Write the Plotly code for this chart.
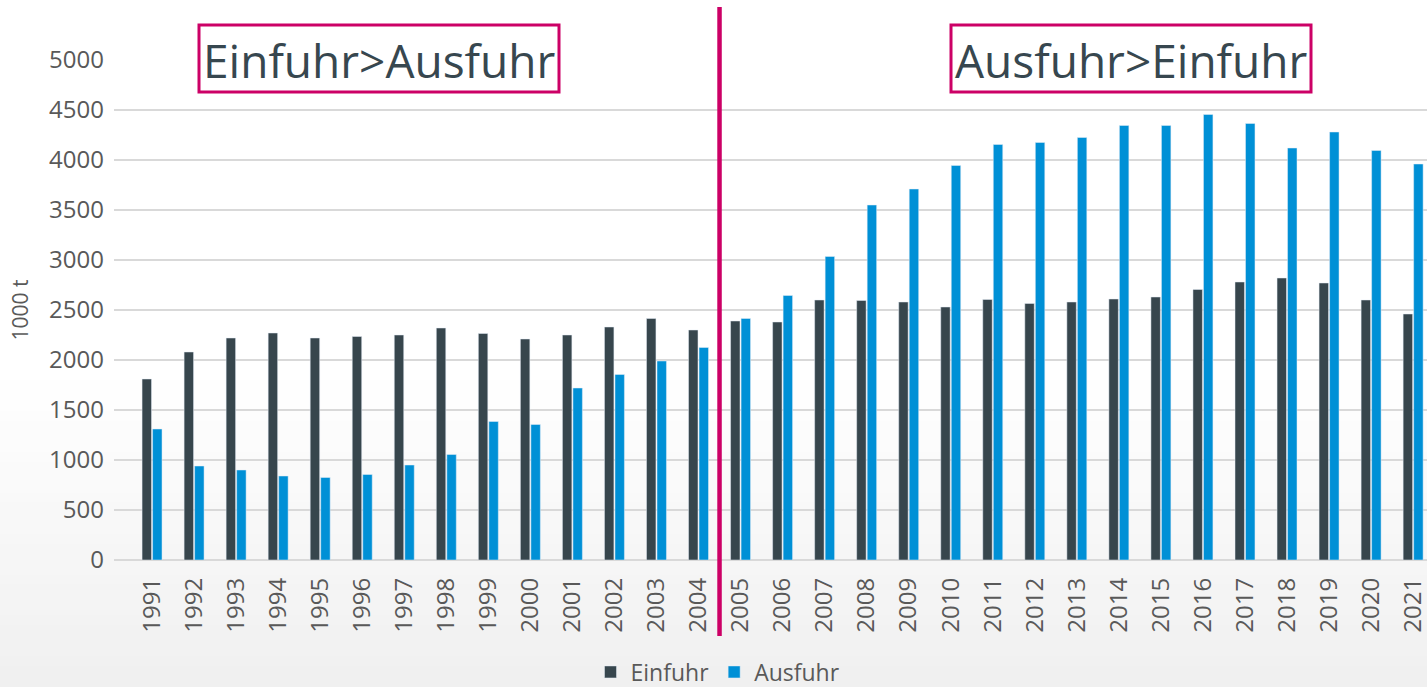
import plotly.graph_objects as go

YEARS = [str(y) for y in range(1991, 2022)]
EINFUHR = [1810, 2080, 2220, 2270, 2220, 2235, 2250, 2320, 2265, 2210, 2250, 2330, 2415, 2300,
           2390, 2380, 2600, 2595, 2580, 2530, 2605, 2565, 2580, 2610, 2630, 2705, 2780, 2820,
           2770, 2600, 2460]
AUSFUHR = [1310, 940, 900, 840, 825, 855, 950, 1055, 1385, 1355, 1720, 1855, 1990, 2125,
           2415, 2645, 3035, 3550, 3710, 3945, 4155, 4175, 4225, 4345, 4345, 4455, 4365, 4120,
           4280, 4095, 3960]
SPLIT_AT = 13.5  # between 2004 and 2005
LEFT_LABEL = "Einfuhr>Ausfuhr"
RIGHT_LABEL = "Ausfuhr>Einfuhr"

W, H = 1427, 687
M_L, M_R, M_T, M_B = 114, 0, 60, 127
X_RANGE = [-0.905, 30.33]
MAGENTA = "#cc0066"
TICK_FONT = dict(family="Open Sans", size=24, color="#595959")


def px_to_paper_x(px):
    return (px - M_L) / (W - M_L - M_R)


def px_to_paper_y(py):
    return (H - M_B - py) / (H - M_T - M_B)


fig = go.Figure()
fig.add_trace(go.Bar(x=YEARS, y=EINFUHR, name="Einfuhr", marker=dict(color="#37464d")))
fig.add_trace(go.Bar(x=YEARS, y=AUSFUHR, name="Ausfuhr", marker=dict(color="#0090d6")))

shapes = []
# soft grey gradient towards the bottom of the page
n = 30
top_py, bot_py = 380, H
for i in range(n):
    g = round(255 - (255 - 240) * (i + 1) / n)
    y0 = top_py + (bot_py - top_py) * i / n
    y1 = top_py + (bot_py - top_py) * (i + 1) / n + 1
    shapes.append(dict(type="rect", xref="paper", yref="paper", layer="below",
                       x0=px_to_paper_x(0), x1=px_to_paper_x(W),
                       y0=px_to_paper_y(y1), y1=px_to_paper_y(y0),
                       fillcolor=f"rgb({g},{g},{g})", line=dict(width=0)))

split_x = (SPLIT_AT - X_RANGE[0]) / (X_RANGE[1] - X_RANGE[0])
shapes.append(dict(type="line", xref="paper", yref="paper", x0=split_x, x1=split_x,
                   y0=px_to_paper_y(636), y1=px_to_paper_y(7),
                   line=dict(color=MAGENTA, width=4.5)))

annotations = []
for label, cx in [(LEFT_LABEL, 379), (RIGHT_LABEL, 1131)]:
    shapes.append(dict(type="rect", xref="paper", yref="paper",
                       x0=px_to_paper_x(cx - 180), x1=px_to_paper_x(cx + 180),
                       y0=px_to_paper_y(92), y1=px_to_paper_y(25),
                       line=dict(color=MAGENTA, width=3), fillcolor="rgba(0,0,0,0)"))
    annotations.append(dict(text=label, xref="paper", yref="paper",
                            x=px_to_paper_x(cx), y=px_to_paper_y(60),
                            xanchor="center", yanchor="middle", showarrow=False,
                            font=dict(family="Open Sans", size=46, color="#37474f")))

fig.update_layout(
    width=W, height=H,
    margin=dict(l=M_L, r=M_R, t=M_T, b=M_B),
    paper_bgcolor="white", plot_bgcolor="rgba(0,0,0,0)",
    barmode="group", bargap=0.5, bargroupgap=0.1,
    shapes=shapes, annotations=annotations,
    showlegend=True,
    legend=dict(orientation="h", x=px_to_paper_x(718), xanchor="center",
                yref="container", y=(H - 672) / H, yanchor="middle",
                font=dict(family="Open Sans", size=23, color="#595959"),
                bgcolor="rgba(0,0,0,0)"),
)
fig.update_xaxes(type="category", range=X_RANGE, tickangle=-90, tickfont=TICK_FONT,
                 showgrid=False, showline=False, ticks="", ticklabelstandoff=12)
fig.update_yaxes(range=[0, 5000], dtick=500, tickfont=TICK_FONT,
                 showgrid=True, gridcolor="#d9d9d9", gridwidth=2, zeroline=True,
                 zerolinecolor="#d9d9d9", zerolinewidth=2, showline=False,
                 ticks="", ticklabelstandoff=9,
                 title=dict(text="1000 t", font=dict(family="Open Sans", size=21, color="#595959"),
                            standoff=14))

fig.write_html("out.html", config={"displayModeBar": False},
               post_script="document.body.style.margin='0';")
